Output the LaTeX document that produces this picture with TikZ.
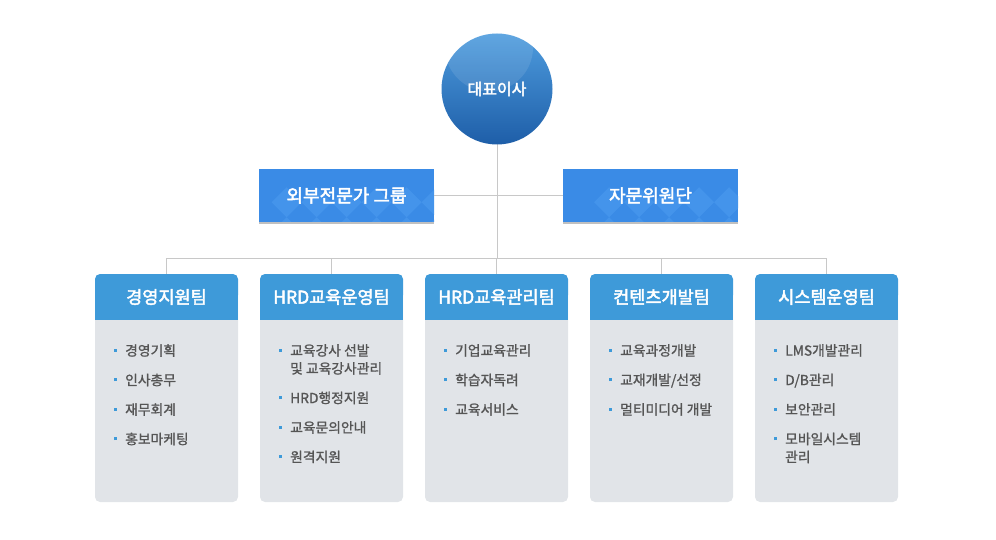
\documentclass[tikz,border=0pt]{standalone}
\usepackage{fontspec}
\setmainfont{Noto Sans CJK KR}
\newfontfamily\headfont[FakeBold=2.5]{Noto Sans CJK KR}
\newfontfamily\itemfont[FakeBold=1.2]{Noto Sans CJK KR}
\usetikzlibrary{positioning}

\definecolor{linkgray}{RGB}{200,200,200}
\definecolor{headblue}{RGB}{62,154,217}
\definecolor{bodygray}{RGB}{225,228,232}
\definecolor{advblue}{RGB}{58,139,230}
\definecolor{advlight}{RGB}{68,148,235}
\definecolor{advshadow}{RGB}{192,192,192}
\definecolor{itemgray}{RGB}{85,85,85}
\definecolor{ceotop}{RGB}{78,156,222}
\definecolor{ceobottom}{RGB}{30,94,168}

% bullet in front of a list line
\newcommand{\itm}{\llap{\textcolor{headblue}{\rule[4pt]{3pt}{3pt}}\hspace{8pt}}}

% one team: name, x centre, title, list
\newcommand{\teambox}[4]{%
  \fill[bodygray, rounded corners=5pt] (#2-71.5,290) rectangle (#2+71.5,502);
  \fill[headblue, rounded corners=5pt] (#2-71.5,274) rectangle (#2+71.5,300);
  \fill[headblue] (#2-71.5,290) rectangle (#2+71.5,320);
  \node[teamhead] (#1) at (#2,297) {#3};
  \node[teamlist] (#1list) at (#2-41.5,344) {#4};
}

\tikzset{
  link/.style={draw=linkgray, line width=1pt},
  ceo/.style={circle, minimum size=111pt, top color=ceotop, bottom color=ceobottom,
    text=white, font=\headfont\fontsize{16}{18}\selectfont,
    path picture={\fill[white, opacity=0.10] ([xshift=-8pt,yshift=-14pt]path picture bounding box.north) circle (44pt);}},
  advbox/.style={minimum width=175pt, minimum height=53pt, fill=advblue, text=white,
    font=\headfont\fontsize{18}{20}\selectfont,
    path picture={\foreach \i in {0,...,6}{\foreach \j in {0,...,2}{
      \fill[advlight, shift={(path picture bounding box.north west)}]
        (30*\i,30*\j-15) -- ++(15,15) -- ++(-15,15) -- ++(-15,-15) -- cycle;}}}},
  teamhead/.style={minimum width=143pt, minimum height=46pt, text=white,
    font=\headfont\fontsize{17.5}{19}\selectfont},
  teamlist/.style={anchor=north west, inner sep=0pt, align=left, text=itemgray,
    font=\itemfont\fontsize{13.8}{18}\selectfont},
}

\begin{document}
\begin{tikzpicture}[x=1pt, y=-1pt]
    \useasboundingbox (0,0) rectangle (996,540);

    \coordinate (bus)  at (497,258);
    \coordinate (busL) at (166.5,258);
    \coordinate (busR) at (826.5,258);

    \draw[link] (497,140) -- (bus);
    \draw[link] (busL) -- (busR);

    \node[ceo] (ceo) at (497,89) {대표이사};

    \node[advbox] (ext) at (346.5,195.5) {외부전문가 그룹};
    \node[advbox] (adv) at (650.5,195.5) {자문위원단};
    \fill[advshadow] (ext.south west) rectangle ([yshift=-2pt]ext.south east);
    \fill[advshadow] (adv.south west) rectangle ([yshift=-2pt]adv.south east);
    \draw[link] (ext.east) -- (adv.west);

    \teambox{mgmt}{166.5}{경영지원팀}{\itm 경영기획\\[11.5pt]\itm 인사총무\\[11.5pt]\itm 재무회계\\[11.5pt]\itm 홍보마케팅}
    \teambox{hrdops}{331.5}{HRD교육운영팀}{\itm 교육강사 선발\\ 및 교육강사관리\\[11.5pt]\itm HRD행정지원\\[11.5pt]\itm 교육문의안내\\[11.5pt]\itm 원격지원}
    \teambox{hrdmgr}{496.5}{HRD교육관리팀}{\itm 기업교육관리\\[11.5pt]\itm 학습자독려\\[11.5pt]\itm 교육서비스}
    \teambox{content}{661.5}{컨텐츠개발팀}{\itm 교육과정개발\\[11.5pt]\itm 교재개발/선정\\[11.5pt]\itm 멀티미디어 개발}
    \teambox{system}{826.5}{시스템운영팀}{\itm LMS개발관리\\[11.5pt]\itm D/B관리\\[11.5pt]\itm 보안관리\\[11.5pt]\itm 모바일시스템\\ 관리}

    \foreach \t in {mgmt,hrdops,hrdmgr,content,system}
        \draw[link] (\t.north |- bus) -- (\t.north);
\end{tikzpicture}
\end{document}
